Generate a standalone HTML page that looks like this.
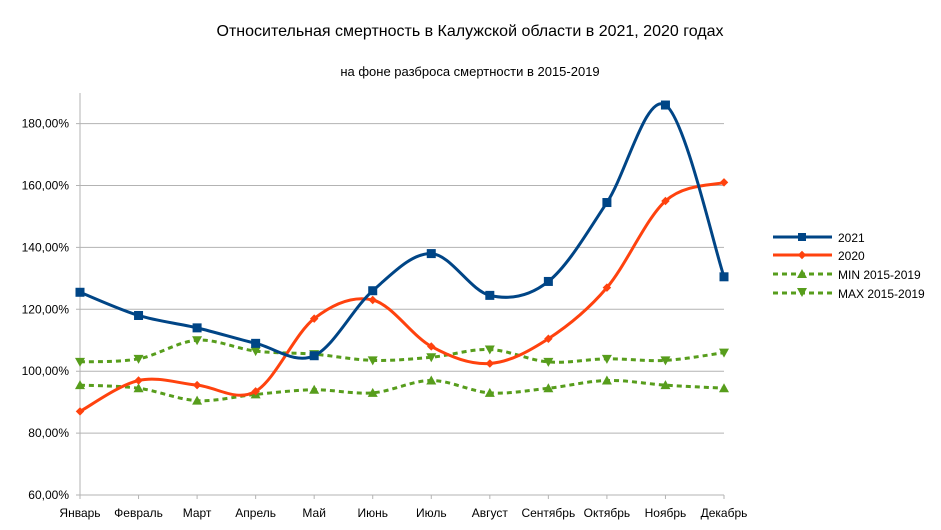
<!DOCTYPE html>
<html><head><meta charset="utf-8"><style>
html,body{margin:0;padding:0;background:#fff;}
svg{display:block;font-family:"Liberation Sans",sans-serif;}
</style></head><body>
<svg id="s" width="941" height="530" viewBox="0 0 941 530" xmlns="http://www.w3.org/2000/svg">
<rect width="941" height="530" fill="#fff"/>
<text x="470" y="36" text-anchor="middle" font-size="16" fill="#000">Относительная смертность в Калужской области в 2021, 2020 годах</text>
<text x="470" y="76" text-anchor="middle" font-size="13" fill="#000">на фоне разброса смертности в 2015-2019</text>
<g id="grid" stroke="#b3b3b3" stroke-width="1"></g>
<g id="ylab" font-size="12" fill="#000" text-anchor="end"></g>
<g id="xlab" font-size="12" fill="#000" text-anchor="middle"></g>
<g id="series"></g>
<g font-size="12" fill="#000">
<line x1="773" y1="237" x2="832" y2="237" stroke="#004586" stroke-width="3"/><rect x="798" y="233" width="8" height="8" fill="#004586"/>
<text x="838" y="242">2021</text>
<line x1="773" y1="255" x2="832" y2="255" stroke="#ff420e" stroke-width="3"/><rect x="799" y="252" width="6" height="6" fill="#ff420e" transform="rotate(45 802 255)"/>
<text x="838" y="260">2020</text>
<line x1="773" y1="274" x2="832" y2="274" stroke="#579d1c" stroke-width="3" stroke-dasharray="5,4"/><polygon points="802,269 807,278 797,278" fill="#579d1c"/>
<text x="838" y="279">MIN 2015-2019</text>
<line x1="773" y1="293" x2="832" y2="293" stroke="#579d1c" stroke-width="3" stroke-dasharray="5,4"/><polygon points="797,288 807,288 802,297" fill="#579d1c"/>
<text x="838" y="298">MAX 2015-2019</text>
</g>
</svg>
<script>
(function(){
const ns="http://www.w3.org/2000/svg";
function el(p,t,a,txt){const e=document.createElementNS(ns,t);for(const k in a)e.setAttribute(k,a[k]);if(txt)e.textContent=txt;document.getElementById(p).appendChild(e);return e;}
const x0=80,x1=724,yTop=93,bot=495;
const Y=v=>495-(v-60)*3.095;
el("grid","line",{x1:x0,y1:yTop,x2:x0,y2:bot});
for(let v=60;v<=180;v+=20){const y=Y(v);el("grid","line",{x1:x0-4,y1:y,x2:x1,y2:y});el("ylab","text",{x:x0-11,y:y+4},v.toFixed(2).replace('.',',')+"%");}
const m=["Январь","Февраль","Март","Апрель","Май","Июнь","Июль","Август","Сентябрь","Октябрь","Ноябрь","Декабрь"];
const X=i=>x0+i*(x1-x0)/11;
m.forEach((n,i)=>{el("grid","line",{x1:X(i),y1:bot,x2:X(i),y2:bot+4});el("xlab","text",{x:X(i),y:517},n);});
function path(pts){let d="M"+pts[0].join(",");for(let i=0;i<pts.length-1;i++){const p0=pts[i-1]||pts[i],p1=pts[i],p2=pts[i+1],p3=pts[i+2]||p2;const t=6;d+=` C${p1[0]+(p2[0]-p0[0])/t},${p1[1]+(p2[1]-p0[1])/t} ${p2[0]-(p3[0]-p1[0])/t},${p2[1]-(p3[1]-p1[1])/t} ${p2[0]},${p2[1]}`;}return d;}
const S=[
{d:[125.5,118,114,109,105,126,138,124.5,129,154.5,186,130.5],c:"#004586",m:"sq"},
{d:[87,97,95.5,93.5,117,123,108,102.5,110.5,127,155,161],c:"#ff420e",m:"di"},
{d:[95.5,94.5,90.5,92.5,94,93,97,93,94.5,97,95.5,94.5],c:"#579d1c",m:"up",dash:1},
{d:[103,104,110,106.5,105.5,103.5,104.5,107,103,104,103.5,106],c:"#579d1c",m:"dn",dash:1}];
S.slice().reverse().forEach(s=>{
const pts=s.d.map((v,i)=>[X(i),Y(v)]);
const a={d:path(pts),fill:"none",stroke:s.c,"stroke-width":3};if(s.dash)a["stroke-dasharray"]="5,4";
el("series","path",a);
pts.forEach(([x,y])=>{
if(s.m=="sq")el("series","rect",{x:x-4.5,y:y-4.5,width:9,height:9,fill:s.c});
else if(s.m=="di")el("series","rect",{x:x-3,y:y-3,width:6,height:6,fill:s.c,transform:`rotate(45 ${x} ${y})`});
else if(s.m=="up")el("series","polygon",{points:`${x},${y-5} ${x+5},${y+4} ${x-5},${y+4}`,fill:s.c});
else el("series","polygon",{points:`${x-5},${y-4} ${x+5},${y-4} ${x},${y+5}`,fill:s.c});
});});
})();
</script>
</body></html>
